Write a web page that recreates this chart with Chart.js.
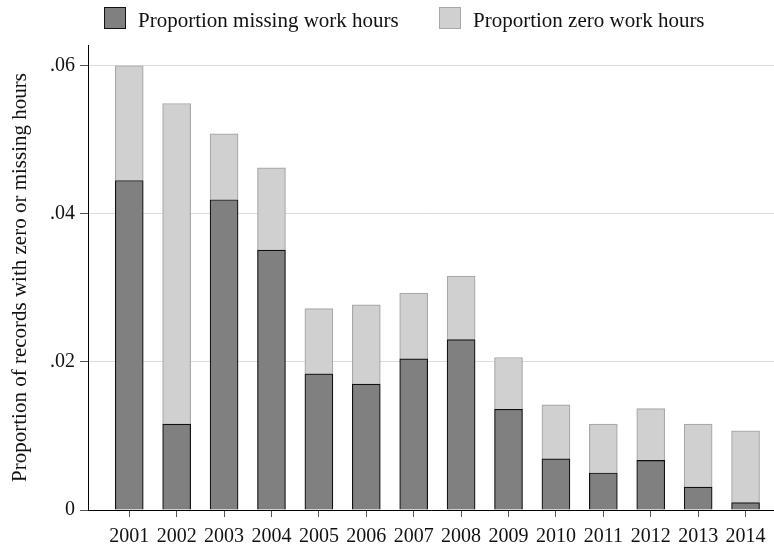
<!DOCTYPE html>
<html>
<head>
<meta charset="utf-8">
<script src="https://cdn.jsdelivr.net/npm/chart.js@4/dist/chart.umd.min.js"></script>
<style>
  html, body { margin: 0; padding: 0; background: #ffffff; }
  #wrap { width: 774px; height: 548px; }
</style>
</head>
<body>
<div id="wrap"><canvas id="c" width="774" height="548"></canvas></div>
<script>
const years = [2001, 2002, 2003, 2004, 2005, 2006, 2007, 2008, 2009, 2010, 2011, 2012, 2013, 2014];
const missingHours = [0.0445, 0.0116, 0.0419, 0.0351, 0.0184, 0.0170, 0.0204, 0.0230, 0.0136, 0.0069, 0.0050, 0.0067, 0.0031, 0.0010];
const zeroHours = [0.0155, 0.0433, 0.0089, 0.0111, 0.0088, 0.0107, 0.0089, 0.0086, 0.0070, 0.0073, 0.0066, 0.0070, 0.0085, 0.0097];
const yTickValues = [0, 0.02, 0.04, 0.06];
const seriesNames = ['Proportion missing work hours', 'Proportion zero work hours'];
const yTitle = 'Proportion of records with zero or missing hours';

const SERIF = '"Liberation Serif", "Times New Roman", serif';
const DARK = '#808080', DARK_BORDER = '#111111';
const LIGHT = '#d0d0d0', LIGHT_BORDER = '#a8a8a8';

const legendPlugin = {
  id: 'stataLegend',
  afterDraw(chart) {
    const ctx = chart.ctx;
    ctx.save();
    const items = [
      { x: 104, fill: DARK, stroke: DARK_BORDER, text: seriesNames[0], tx: 138 },
      { x: 439, fill: LIGHT, stroke: LIGHT_BORDER, text: seriesNames[1], tx: 473 }
    ];
    ctx.font = '21px ' + SERIF;
    ctx.textBaseline = 'alphabetic';
    ctx.textAlign = 'left';
    for (const it of items) {
      ctx.fillStyle = it.fill;
      ctx.fillRect(it.x, 7, 22, 22);
      ctx.strokeStyle = it.stroke;
      ctx.lineWidth = 1;
      ctx.strokeRect(it.x + 0.5, 7.5, 21, 21);
      ctx.fillStyle = '#111111';
      ctx.fillText(it.text, it.tx, 27);
    }
    ctx.restore();
  }
};

new Chart(document.getElementById('c'), {
  type: 'bar',
  data: {
    datasets: [
      {
        label: seriesNames[0],
        data: years.map((yr, i) => ({ x: yr, y: missingHours[i] })),
        backgroundColor: DARK,
        borderColor: DARK_BORDER,
        borderWidth: 1.2,
        borderSkipped: 'start',
        barThickness: 28
      },
      {
        label: seriesNames[1],
        data: years.map((yr, i) => ({ x: yr, y: zeroHours[i] })),
        backgroundColor: LIGHT,
        borderColor: LIGHT_BORDER,
        borderWidth: 1.2,
        borderSkipped: 'start',
        barThickness: 28
      }
    ]
  },
  options: {
    responsive: false,
    animation: false,
    devicePixelRatio: 1,
    layout: { padding: { top: 45, left: 0, right: 0, bottom: 0 } },
    plugins: {
      legend: { display: false },
      tooltip: { enabled: false }
    },
    scales: {
      x: {
        type: 'linear',
        stacked: true,
        offset: false,
        min: 2000.13,
        max: 2014.60,
        afterBuildTicks: (s) => { s.ticks = years.map(v => ({ value: v })); },
        afterFit: (s) => { s.height = 38; },
        ticks: {
          callback: (v) => String(v),
          font: { family: SERIF, size: 20 },
          color: '#111111',
          padding: 8,
          maxRotation: 0,
          autoSkip: false
        },
        grid: {
          display: true,
          offset: false,
          drawOnChartArea: false,
          drawTicks: true,
          tickLength: 7,
          tickColor: '#555555'
        },
        border: { display: true, color: '#000000', width: 1 }
      },
      y: {
        stacked: true,
        min: 0,
        max: 0.0628,
        afterBuildTicks: (s) => { s.ticks = yTickValues.map(v => ({ value: v })); },
        afterFit: (s) => { s.width = 88; },
        ticks: {
          callback: (v) => v === 0 ? '0' : v.toFixed(2).replace(/^0/, ''),
          font: { family: SERIF, size: 20 },
          color: '#111111',
          padding: 5
        },
        grid: {
          color: '#dcdcdc',
          lineWidth: 1,
          tickLength: 8,
          tickColor: '#555555'
        },
        border: { display: true, color: '#000000', width: 1 },
        title: {
          display: true,
          text: yTitle,
          font: { family: SERIF, size: 21 },
          color: '#111111',
          padding: { top: 8, bottom: 4 }
        }
      }
    }
  },
  plugins: [legendPlugin]
});
</script>
</body>
</html>
